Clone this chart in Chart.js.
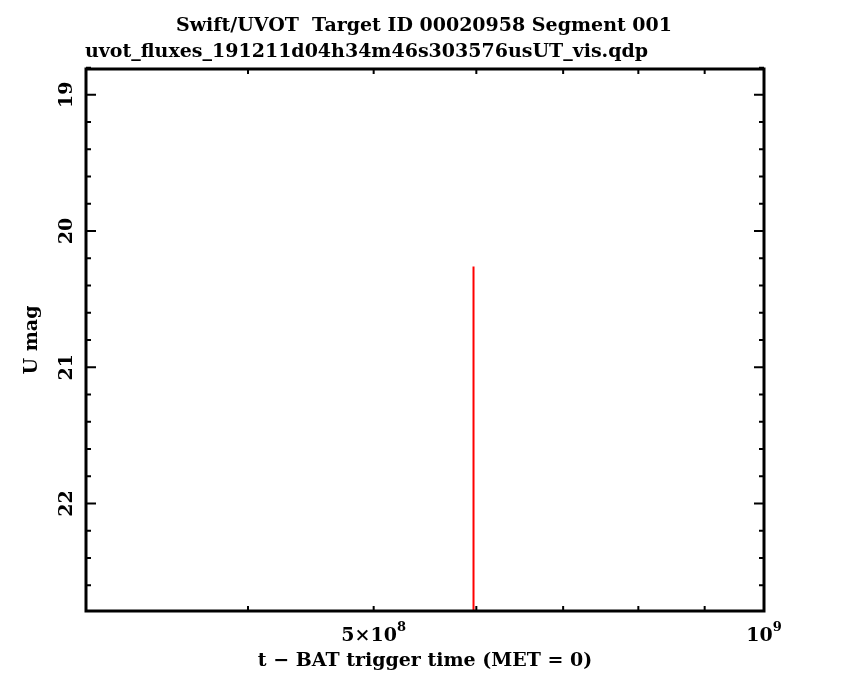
<!DOCTYPE html>
<html>
<head>
<meta charset="utf-8">
<script src="https://cdn.jsdelivr.net/npm/chart.js@4.4.0/dist/chart.umd.min.js"></script>
<style>
  html, body { margin: 0; padding: 0; background: #fff; }
  #wrap { width: 850px; height: 680px; }
</style>
</head>
<body>
<div id="wrap"><canvas id="chart"></canvas></div>
<script>
const obsTime = [5.97e8];
const obsMag = [20.26];
const obsMagFaint = [23.5];   // bar runs past the bottom of the frame

const xRange = [3e8, 1e9];
const yRange = [18.81, 22.79];
const xMinorTicks = [3e8, 4e8, 5e8, 6e8, 7e8, 8e8, 9e8];
const xMajorTicks = [1e9];
const xTickLabels = [{ v: 5e8, base: '5\u00d710', exp: '8' }, { v: 1e9, base: '10', exp: '9' }];
const yMajorTicks = [19, 20, 21, 22];
const yMinorTicks = [18.8, 19.2, 19.4, 19.6, 19.8, 20.2, 20.4, 20.6, 20.8, 21.2, 21.4, 21.6, 21.8, 22.2, 22.4, 22.6];

const titleText = 'Swift/UVOT  Target ID 00020958 Segment 001';
const subText = 'uvot_fluxes_191211d04h34m46s303576usUT_vis.qdp';
const xTitle = 't \u2212 BAT trigger time (MET = 0)';
const yTitle = 'U mag';

const FONT = 'bold 19px "DejaVu Serif"';
const EXP_FONT = 'bold 13px "DejaVu Serif"';

const barPoints = [];
obsTime.forEach((t, i) => {
    barPoints.push({ x: t, y: obsMag[i] });
    barPoints.push({ x: t, y: obsMagFaint[i] });
});

const qdpFrame = {
    id: 'qdpFrame',
    afterDraw(chart) {
        const ctx = chart.ctx;
        const a = chart.chartArea;
        const xs = chart.scales.x;
        const ys = chart.scales.y;
        ctx.save();
        ctx.strokeStyle = '#000';
        ctx.fillStyle = '#000';
        ctx.lineWidth = 3;
        ctx.strokeRect(a.left, a.top, a.right - a.left, a.bottom - a.top);

        ctx.lineWidth = 2;
        const tickX = (v, len) => {
            const px = xs.getPixelForValue(v);
            ctx.beginPath();
            ctx.moveTo(px, a.bottom); ctx.lineTo(px, a.bottom - len);
            ctx.moveTo(px, a.top); ctx.lineTo(px, a.top + len);
            ctx.stroke();
        };
        const tickY = (v, len) => {
            const py = ys.getPixelForValue(v);
            ctx.beginPath();
            ctx.moveTo(a.left, py); ctx.lineTo(a.left + len, py);
            ctx.moveTo(a.right, py); ctx.lineTo(a.right - len, py);
            ctx.stroke();
        };
        xMinorTicks.forEach(v => tickX(v, 5));
        xMajorTicks.forEach(v => tickX(v, 10));
        yMinorTicks.forEach(v => tickY(v, 5));
        yMajorTicks.forEach(v => tickY(v, 10));

        ctx.font = FONT;
        ctx.textBaseline = 'alphabetic';
        // titles
        ctx.textAlign = 'center';
        ctx.fillText(titleText, 424, 31);
        ctx.textAlign = 'left';
        ctx.fillText(subText, a.left - 1, 57);
        ctx.textAlign = 'center';
        ctx.fillText(xTitle, 425, 666);

        // x tick labels with exponent
        xTickLabels.forEach(t => {
            const px = xs.getPixelForValue(t.v);
            ctx.font = FONT;
            const wb = ctx.measureText(t.base).width;
            ctx.font = EXP_FONT;
            const we = ctx.measureText(t.exp).width;
            const x0 = px - (wb + we) / 2;
            ctx.textAlign = 'left';
            ctx.font = FONT;
            ctx.fillText(t.base, x0, a.bottom + 30);
            ctx.font = EXP_FONT;
            ctx.fillText(t.exp, x0 + wb, a.bottom + 20);
        });

        // y tick labels, rotated
        ctx.font = FONT;
        yMajorTicks.forEach(v => {
            const py = ys.getPixelForValue(v);
            ctx.save();
            ctx.translate(a.left - 14, py);
            ctx.rotate(-Math.PI / 2);
            ctx.textAlign = 'center';
            ctx.fillText(String(v), 0, 0);
            ctx.restore();
        });
        ctx.save();
        ctx.translate(37, 340);
        ctx.rotate(-Math.PI / 2);
        ctx.textAlign = 'center';
        ctx.fillText(yTitle, 0, 0);
        ctx.restore();
        ctx.restore();
    }
};

new Chart(document.getElementById('chart').getContext('2d'), {
    type: 'line',
    data: {
        datasets: [{
            data: barPoints,
            borderColor: '#ff0000',
            borderWidth: 2,
            pointRadius: 0,
            fill: false,
            spanGaps: false
        }]
    },
    options: {
        responsive: true,
        maintainAspectRatio: false,
        animation: false,
        layout: { padding: { left: 86, top: 69, right: 86, bottom: 69 } },
        plugins: {
            legend: { display: false },
            tooltip: { enabled: false }
        },
        scales: {
            x: { type: 'logarithmic', min: xRange[0], max: xRange[1], display: false },
            y: { type: 'linear', min: yRange[0], max: yRange[1], reverse: true, display: false }
        }
    },
    plugins: [qdpFrame]
});
</script>
</body>
</html>
